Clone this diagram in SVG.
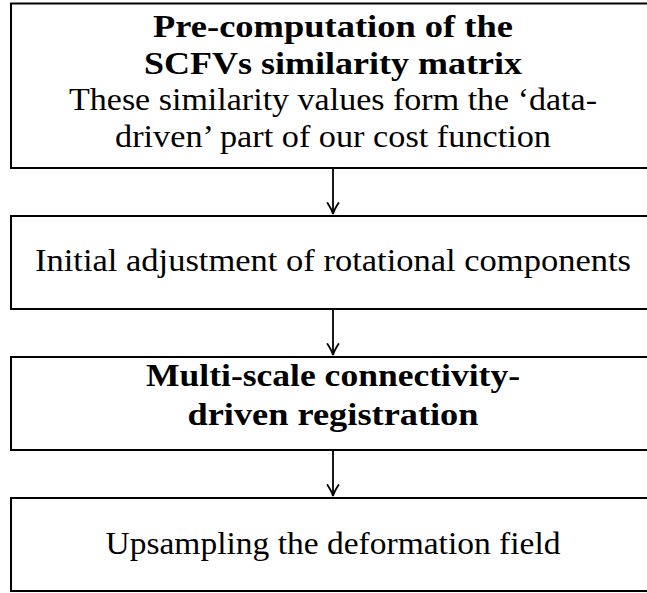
<svg xmlns="http://www.w3.org/2000/svg" width="647" height="593" viewBox="0 0 647 593">
<style>
.box{fill:#fff;stroke:#000;stroke-width:2}
.t{font-family:"Liberation Serif","Times New Roman",serif;font-size:32px;fill:#000;text-anchor:middle}
.b{font-weight:bold}
.edge{fill:none;stroke:#000;stroke-width:1.8}
</style>
<defs>
<marker id="arr" markerUnits="userSpaceOnUse" markerWidth="16" markerHeight="16" viewBox="-8 -8 16 16" refX="0" refY="0" orient="auto" overflow="visible">
<path d="M-11,-5.5 Q-4,-1 0,0 Q-4,1 -11,5.5" fill="none" stroke="#000" stroke-width="1.8" stroke-linecap="round"/>
</marker>
</defs>
<rect width="647" height="593" fill="#fff"/>
<g id="node1">
<rect class="box" x="11" y="3.5" width="660" height="164.5"/>
<text class="t b" x="333" y="37" textLength="360" lengthAdjust="spacingAndGlyphs">Pre-computation of the</text>
<text class="t b" x="333" y="74" textLength="378" lengthAdjust="spacingAndGlyphs">SCFVs similarity matrix</text>
<text class="t" x="333" y="110" textLength="528" lengthAdjust="spacingAndGlyphs">These similarity values form the ‘data-</text>
<text class="t" x="333" y="147" textLength="436" lengthAdjust="spacingAndGlyphs">driven’ part of our cost function</text>
</g>
<g id="node2">
<rect class="box" x="11" y="216" width="660" height="93"/>
<text class="t" x="333" y="271" textLength="596" lengthAdjust="spacingAndGlyphs">Initial adjustment of rotational components</text>
</g>
<g id="node3">
<rect class="box" x="11" y="357" width="660" height="93"/>
<text class="t b" x="333" y="386" textLength="374" lengthAdjust="spacingAndGlyphs">Multi-scale connectivity-</text>
<text class="t b" x="333" y="425" textLength="291" lengthAdjust="spacingAndGlyphs">driven registration</text>
</g>
<g id="node4">
<rect class="box" x="11" y="498" width="660" height="93"/>
<text class="t" x="333" y="554" textLength="455" lengthAdjust="spacingAndGlyphs">Upsampling the deformation field</text>
</g>
<g id="connectors">
<path class="edge" d="M333,169 V214" marker-end="url(#arr)"/>
<path class="edge" d="M333,310 V355" marker-end="url(#arr)"/>
<path class="edge" d="M333,451 V496" marker-end="url(#arr)"/>
</g>
</svg>
